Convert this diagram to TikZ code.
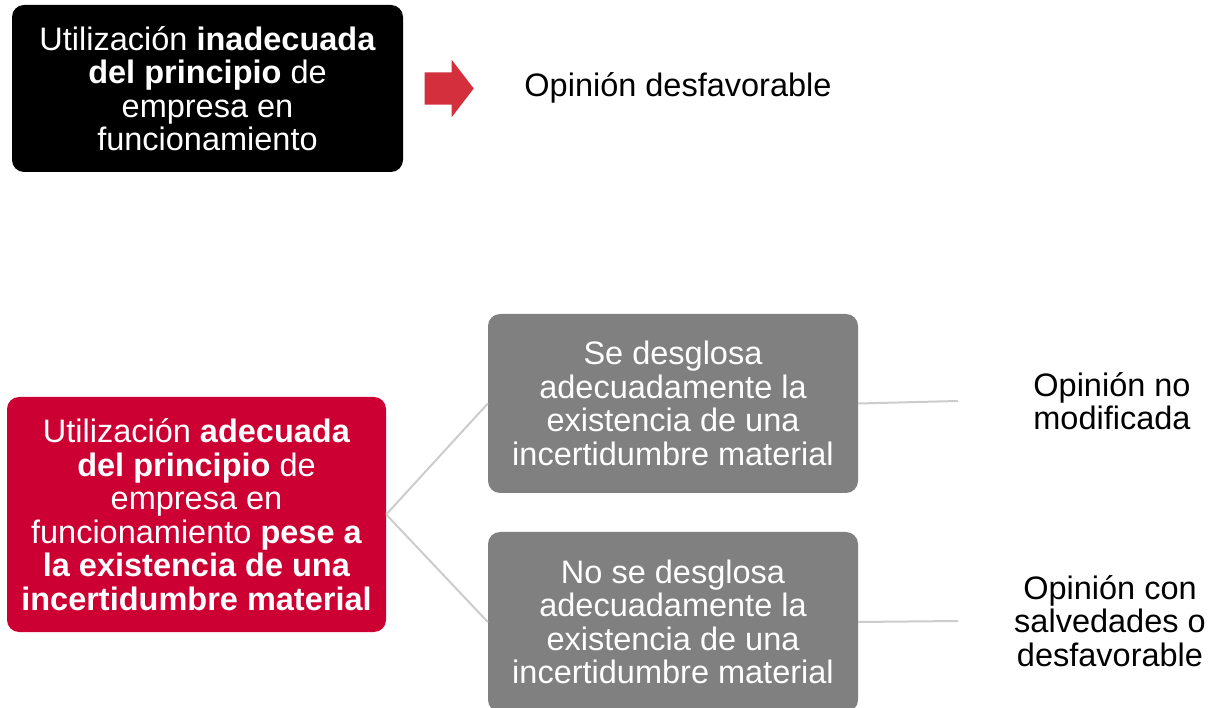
\documentclass[tikz,border=0pt]{standalone}
\usepackage{fontspec}
\setmainfont{Liberation Sans}
\usetikzlibrary{positioning,shapes.arrows}

\definecolor{rojo}{RGB}{204,0,51}
\definecolor{flecha}{RGB}{211,47,60}
\definecolor{gris}{RGB}{128,128,128}
\definecolor{linea}{RGB}{204,204,204}

\begin{document}
\begin{tikzpicture}[x=1pt,y=-1pt,
    caja/.style={rounded corners=12pt, inner sep=0pt, align=center,
      text=white, font=\fontsize{32.5}{33.5}\selectfont},
    opinion/.style={align=center, inner sep=0pt,
      font=\fontsize{32.5}{33.5}\selectfont},
    conector/.style={draw=linea, line width=2pt}]
\useasboundingbox (0,0) rectangle (1211,708);
% top row
\node[caja, fill=black, minimum width=391pt, minimum height=167pt] (negro) at (207.5,88.5)
  {Utilización \textbf{inadecuada}\\ \textbf{del principio} de\\ empresa en\\ funcionamiento};
\node[single arrow, fill=flecha, inner xsep=0pt, inner ysep=16pt, minimum height=49pt,
  single arrow head extend=12.5pt, single arrow tip angle=105] (flecha) at (443,88.5) {};
\node[opinion] (desf) at (678,88) {Opinión desfavorable};
% bottom tree
\node[caja, fill=rojo, minimum width=379pt, minimum height=235pt] (rojo) at (196.5,514.5)
  {Utilización \textbf{adecuada}\\ \textbf{del principio} de\\ empresa en\\
   funcionamiento \textbf{pese a}\\ \textbf{la existencia de una}\\ \textbf{incertidumbre material}};
\node[caja, fill=gris, minimum width=370pt, minimum height=179pt] (si) at (673,403.5)
  {Se desglosa\\ adecuadamente la\\ existencia de una\\ incertidumbre material};
\node[caja, fill=gris, minimum width=370pt, minimum height=180pt] (nosi) at (673,622)
  {No se desglosa\\ adecuadamente la\\ existencia de una\\ incertidumbre material};
\node[opinion] (nomod) at (1112,401) {Opinión no\\ modificada};
\node[opinion] (salv) at (1110,621) {Opinión con\\ salvedades o\\ desfavorable};
\coordinate (o1) at (958,401);
\coordinate (o2) at (958,621);
\draw[conector] (rojo.east) -- (si.west);
\draw[conector] (rojo.east) -- (nosi.west);
\draw[conector] (si.east) -- (o1);
\draw[conector] (nosi.east) -- (o2);
\end{tikzpicture}
\end{document}
